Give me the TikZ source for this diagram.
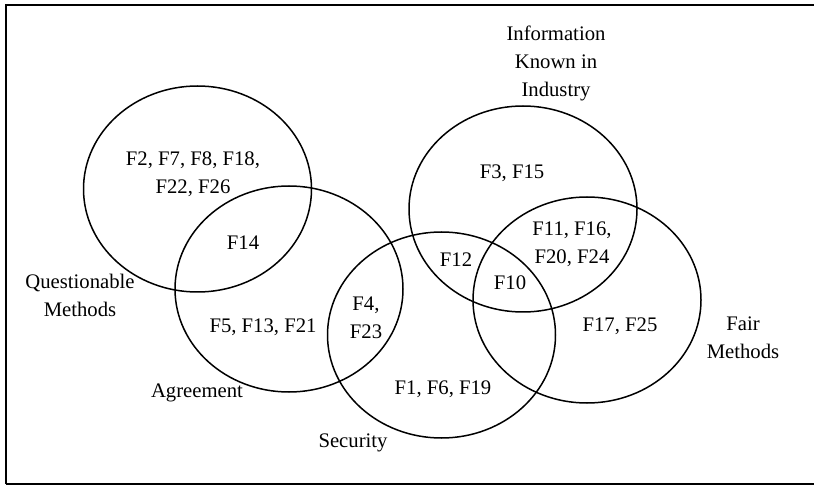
\documentclass[tikz,border=0pt]{standalone}
\usepackage{fontspec}
\setmainfont{Liberation Serif}
\usetikzlibrary{shapes.geometric}

\begin{document}
\begin{tikzpicture}[x=1pt,y=-1pt,
    set/.style={draw,ellipse,line width=1.5pt,minimum width=228pt,minimum height=206pt,inner sep=0pt},
    lbl/.style={align=center,inner sep=0pt,font=\fontsize{20.7}{28}\selectfont}]
            \useasboundingbox (0,0) rectangle (814,486);
            \draw[line width=1.8pt] (6,484) -- (6,5) -- (820,5);
            \draw[line width=1.8pt] (6,484) -- (820,484);

            % the five sets
            \node[set] at (197.5,189) (quest) {};
            \node[set] at (289,289) (agree) {};
            \node[set] at (441.5,335) (secur) {};
            \node[set] at (523,209) (inform) {};
            \node[set] at (587,300) (fair) {};

            % set names
            \node[lbl] at (80,295) (questname) {Questionable\\Methods};
            \node[lbl] at (197,393) (agreename) {Agreement};
            \node[lbl] at (353,443) (securname) {Security};
            \node[lbl] at (556,63) (informname) {Information\\Known in\\Industry};
            \node[lbl] at (743,338) (fairname) {Fair\\Methods};

            % regions
            \node[lbl] at (193,174) (qonly) {F2, F7, F8, F18,\\F22, F26};
            \node[lbl] at (243,243) (qa) {F14};
            \node[lbl] at (263,327) (aonly) {F5, F13, F21};
            \node[lbl] at (366,318) (as) {F4,\\F23};
            \node[lbl] at (443,389) (sonly) {F1, F6, F19};
            \node[lbl] at (512,173) (ionly) {F3, F15};
            \node[lbl] at (456,260) (si) {F12};
            \node[lbl] at (510,283) (sif) {F10};
            \node[lbl] at (572,244) (ifr) {F11, F16,\\F20, F24};
            \node[lbl] at (620,326) (fonly) {F17, F25};
        \end{tikzpicture}
\end{document}
